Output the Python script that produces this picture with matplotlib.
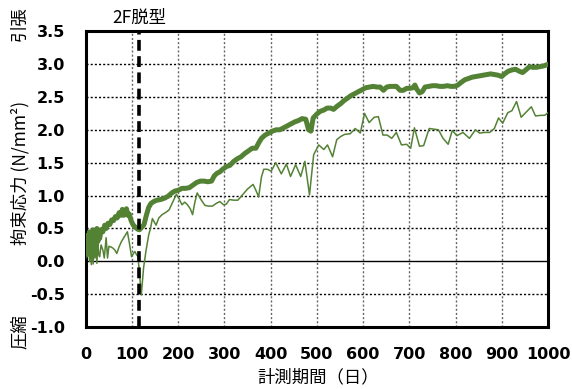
import matplotlib
matplotlib.use("Agg")
import matplotlib.pyplot as plt
import numpy as np

# thick line (upper series)
thick_day = [0, 2, 4, 6, 8, 10, 12, 14, 16, 18, 20, 22, 24, 26, 28, 30, 33, 37, 41, 44,
             48, 52, 56, 60, 64, 68, 72, 76, 79, 82, 85, 88, 91, 94, 98, 102, 107, 112, 116, 120,
             126, 131, 136, 141, 147, 154, 162, 170, 178, 186, 193, 200, 208, 216, 224, 232, 240, 248, 256, 264,
             272, 278, 284, 290, 296, 304, 312, 320, 328, 336, 344, 352, 360, 368, 374, 380, 388, 396, 404, 412,
             420, 428, 436, 444, 452, 460, 468, 476, 482, 487, 492, 500, 507, 515, 522, 530, 536, 544, 552, 558,
             566, 574, 582, 590, 598, 606, 614, 622, 630, 637, 644, 651, 658, 666, 672, 680, 687, 694, 701, 708,
             712, 716, 722, 728, 734, 742, 750, 758, 766, 774, 782, 790, 798, 805, 812, 820, 828, 836, 844, 852,
             860, 868, 876, 884, 892, 900, 906, 914, 922, 930, 938, 945, 952, 960, 967, 975, 982, 990, 998]
thick_val = [0.25, 0.12, 0.40, 0.20, 0.45, 0.15, 0.38, 0.22, 0.48, 0.18, 0.42, 0.25, 0.50, 0.30, 0.45, 0.35, 0.48, 0.45, 0.55, 0.50,
             0.58, 0.56, 0.63, 0.62, 0.68, 0.66, 0.74, 0.70, 0.79, 0.70, 0.76, 0.80, 0.70, 0.72, 0.62, 0.56, 0.52, 0.49, 0.48, 0.51,
             0.56, 0.70, 0.82, 0.88, 0.91, 0.93, 0.94, 0.96, 0.99, 1.04, 1.07, 1.08, 1.11, 1.11, 1.12, 1.16, 1.20, 1.22, 1.22, 1.21,
             1.22, 1.30, 1.34, 1.36, 1.40, 1.44, 1.46, 1.52, 1.56, 1.59, 1.64, 1.68, 1.72, 1.72, 1.80, 1.87, 1.92, 1.95, 1.98, 2.00,
             2.00, 2.03, 2.06, 2.09, 2.12, 2.14, 2.17, 2.16, 2.00, 1.98, 2.18, 2.24, 2.28, 2.30, 2.33, 2.33, 2.31, 2.36, 2.40, 2.44,
             2.48, 2.52, 2.55, 2.58, 2.61, 2.64, 2.65, 2.66, 2.65, 2.65, 2.60, 2.65, 2.66, 2.66, 2.66, 2.60, 2.60, 2.63, 2.63, 2.64,
             2.68, 2.62, 2.56, 2.58, 2.65, 2.66, 2.67, 2.67, 2.66, 2.66, 2.67, 2.66, 2.66, 2.68, 2.72, 2.76, 2.78, 2.80, 2.81, 2.82,
             2.83, 2.84, 2.85, 2.84, 2.83, 2.81, 2.85, 2.89, 2.91, 2.92, 2.89, 2.87, 2.91, 2.96, 2.95, 2.95, 2.96, 2.97, 2.99]

# thin line (lower series)
thin_day = [0, 2, 4, 6, 8, 10, 12, 14, 16, 18, 20, 22, 24, 26, 28, 30, 33, 37, 40, 44,
            47, 50, 54, 59, 63, 67, 72, 77, 84, 90, 95, 99, 103, 106, 110, 113, 117, 120, 125, 130,
            136, 140, 144, 148, 152, 158, 165, 172, 180, 188, 196, 202, 208, 214, 220, 226, 231, 236, 241, 250,
            258, 266, 274, 282, 290, 298, 304, 311, 320, 329, 340, 350, 362, 368, 374, 380, 385, 393, 401, 411,
            423, 434, 443, 454, 465, 474, 484, 493, 504, 515, 523, 534, 543, 552, 560, 572, 583, 594, 603, 613,
            624, 633, 643, 652, 662, 672, 683, 694, 703, 711, 722, 731, 743, 753, 763, 773, 784, 793, 803, 816,
            830, 843, 852, 863, 874, 884, 893, 902, 913, 922, 932, 942, 953, 964, 973, 985, 993, 1000]
thin_val = [0.05, 0.33, 0.07, 0.40, 0.00, 0.35, -0.05, 0.42, -0.04, 0.30, 0.05, 0.38, -0.03, 0.28, 0.10, 0.07, 0.25, 0.17, 0.05, 0.36,
            0.05, 0.23, 0.22, 0.20, 0.17, 0.12, 0.22, 0.30, 0.38, 0.45, 0.25, 0.07, 0.12, 0.15, 0.10, 0.07, -0.25, -0.51, -0.10, 0.15,
            0.40, 0.50, 0.65, 0.60, 0.55, 0.66, 0.71, 0.74, 0.78, 0.90, 1.02, 0.95, 0.86, 0.90, 0.86, 0.80, 0.71, 0.90, 1.04, 0.93,
            0.85, 0.84, 0.84, 0.88, 0.91, 0.86, 0.87, 0.94, 0.93, 0.93, 1.02, 1.10, 1.17, 1.08, 0.98, 1.28, 1.40, 1.40, 1.37, 1.50,
            1.33, 1.48, 1.29, 1.47, 1.29, 1.52, 1.01, 1.62, 1.77, 1.70, 1.77, 1.59, 1.85, 1.90, 1.93, 1.94, 2.02, 1.95, 2.25, 2.11,
            2.19, 2.20, 1.92, 1.92, 1.87, 1.96, 1.77, 1.78, 1.72, 2.03, 1.75, 1.76, 2.02, 2.01, 2.00, 1.87, 1.78, 1.99, 1.91, 1.96,
            1.87, 2.00, 1.95, 1.96, 1.96, 2.02, 2.18, 2.10, 2.26, 2.29, 2.43, 2.19, 2.27, 2.35, 2.21, 2.22, 2.22, 2.26]

demold_day = 115
x_ticks = list(range(0, 1001, 100))
y_ticks = [-1.0, -0.5, 0.0, 0.5, 1.0, 1.5, 2.0, 2.5, 3.0, 3.5]

green = "#548235"
jp = ["Noto Sans CJK JP", "DejaVu Sans"]

fig = plt.figure(figsize=(5.72, 3.89), dpi=100)
ax = fig.add_axes([0.150, 0.159, 0.808, 0.761])

ax.plot(thick_day, thick_val, color=green, lw=3.6, solid_joinstyle="round", zorder=4)
ax.plot(thin_day, thin_val, color=green, lw=1.1, zorder=4)

for y in y_ticks:
    if y == 0.0:
        ax.axhline(0, color="black", lw=1.0, zorder=2)
    elif -1.0 < y < 3.5:
        ax.axhline(y, color="black", lw=1.0, ls=(0, (1.5, 1.5)), zorder=1)
for x in x_ticks[1:-1]:
    ax.axvline(x, color="#666666", lw=1.0, ls=(0, (1.5, 1.5)), zorder=1)

ax.axvline(demold_day, color="black", lw=2.6, ls=(0, (3, 1.5)), zorder=5)

ax.set_xlim(0, 1000)
ax.set_ylim(-1.0, 3.5)
ax.set_xticks(x_ticks)
ax.set_yticks(y_ticks)
ax.set_yticklabels([f"{v:.1f}" for v in y_ticks])
ax.tick_params(length=0, labelsize=11.5)
ax.tick_params(axis="y", pad=15)
ax.tick_params(axis="x", pad=14)
for lab in ax.get_xticklabels() + ax.get_yticklabels():
    lab.set_fontweight("bold")
    lab.set_family("DejaVu Sans")
for s in ax.spines.values():
    s.set_linewidth(2.2)

fig.text(139 / 572, 1 - 18 / 389, "2F脱型", ha="center", va="center", fontsize=12.5, family=jp)
fig.text(318 / 572, 1 - 377 / 389, "計測期間（日）", ha="center", va="center", fontsize=12.5, family=jp)
fig.text(20 / 572, 1 - 173 / 389, "拘束応力 (N/mm²)", ha="center", va="center", rotation=90, fontsize=12.5, family=jp)
fig.text(20 / 572, 1 - 24 / 389, "引張", ha="center", va="center", rotation=90, fontsize=12.5, family=jp)
fig.text(20 / 572, 1 - 332 / 389, "圧縮", ha="center", va="center", rotation=90, fontsize=12.5, family=jp)

fig.savefig("out.png", dpi=100)
